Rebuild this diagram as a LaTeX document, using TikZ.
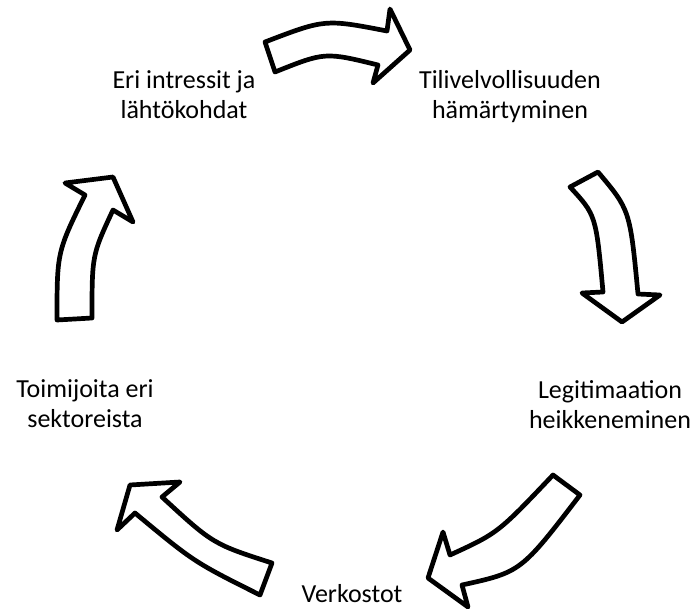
\documentclass[tikz,border=0pt]{standalone}
\usepackage{fontspec}
\setmainfont{Carlito}
\begin{document}
\begin{tikzpicture}[x=1pt, y=-1pt,
  bigarrow/.style={draw=black, fill=white, line width=4.7pt, line join=round},
  lbl/.style={font=\fontsize{26}{30}\selectfont, align=center, inner sep=0pt}]
\useasboundingbox (0,0) rectangle (694,610);

% labels of the cycle (centre of each block = first baseline + 9)
\node[lbl] (intressit) at (184,97)  {\strut Eri intressit ja\\\strut lähtökohdat};
\node[lbl] (tili)      at (510,97)  {\strut Tilivelvollisuuden\\\strut hämärtyminen};
\node[lbl] (legit)     at (610,407) {\strut Legitimaation\\\strut heikkeneminen};
\node[lbl] (verkostot) at (352,596) {\strut Verkostot};
\node[lbl] (toimijat)  at (85,406)  {\strut Toimijoita eri\\\strut sektoreista};

% top block arrow, pointing right
\path[bigarrow] (265,42) .. controls (325,19) .. (387,31) -- (390,9) -- (410,50)
  -- (373,83) -- (378,65) .. controls (325,52) .. (275,72) -- cycle;

% right block arrow, pointing down
\path[bigarrow] (598,172) .. controls (630,210) .. (638,294) -- (660,295) -- (622,322)
  -- (582,293) -- (603,292) .. controls (596,215) .. (570,187) -- cycle;

% lower right block arrow, pointing down-left
\path[bigarrow] (553,475) .. controls (498,533) .. (450,555) -- (443,532) -- (428,578)
  -- (468,607) -- (462,585) .. controls (521,572) .. (580,495) -- cycle;

% lower left block arrow, pointing up-left
\path[bigarrow] (272,563) .. controls (213,544) .. (162,497) -- (180,482) -- (130,485)
  -- (117,530) -- (135,513) .. controls (194,562) .. (260,595) -- cycle;

% left block arrow, pointing up
\path[bigarrow] (57,320) .. controls (57,252) .. (85,195) -- (65,183) -- (113,177)
  -- (133,222) -- (113,210) .. controls (92,255) .. (92,318) -- cycle;
\end{tikzpicture}
\end{document}
